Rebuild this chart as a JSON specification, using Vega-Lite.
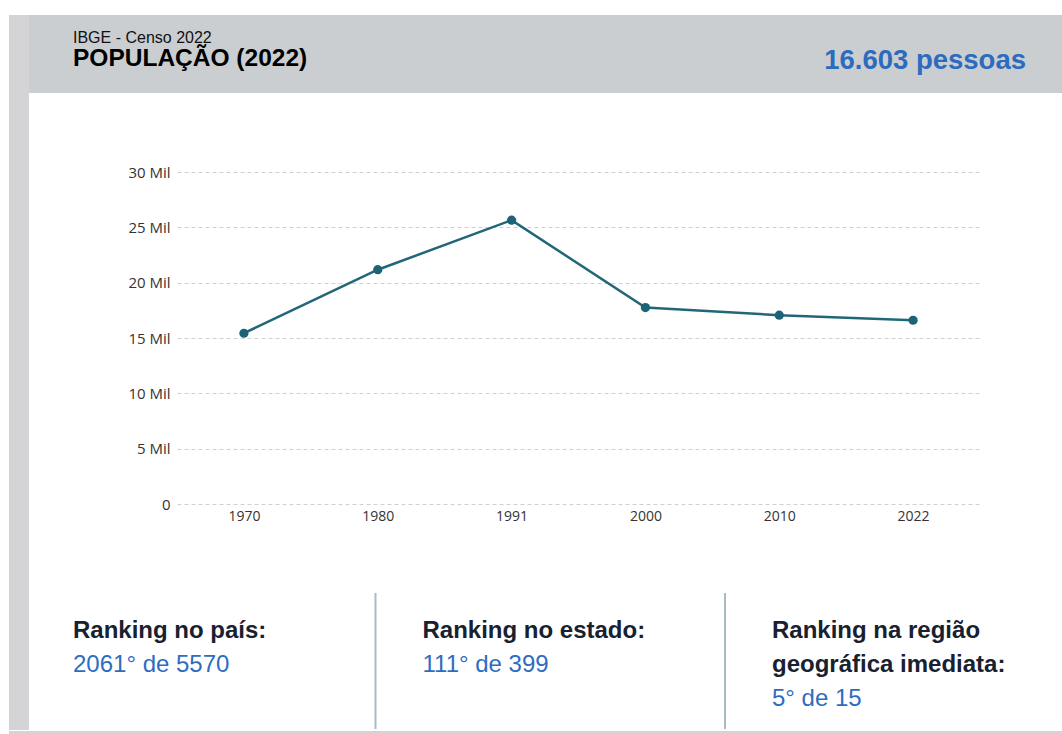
{
  "$schema": "https://vega.github.io/schema/vega-lite/v6.json",
  "background": "white",
  "padding": {"left": 9, "top": 15, "right": 0, "bottom": 0},
  "config": {"view": {"stroke": null}, "concat": {"spacing": 0}},
  "spacing": 0,
  "vconcat": [
    {
      "spacing": 0,
      "hconcat": [
        {
          "width": 20,
          "height": 715,
          "view": {"fill": "#d4d4d6", "stroke": null},
          "data": {"values": [{}]},
          "mark": {"type": "point", "opacity": 0}
        },
        {
          "spacing": 72,
          "vconcat": [
            {
              "width": 1033,
              "height": 78,
              "view": {"fill": "#cbced1", "stroke": null},
              "data": {"values": [
                {"pos": "left", "line": 1, "kind": "source", "text": "IBGE - Censo 2022"},
                {"pos": "left", "line": 2, "kind": "title", "text": "POPULAÇÃO (2022)"},
                {"pos": "right", "line": 2, "kind": "value", "text": "16.603 pessoas"}
              ]},
              "encoding": {
                "x": {"field": "pos", "type": "ordinal", "scale": {"type": "point", "domain": ["left", "right"], "range": [44, 997], "padding": 0}, "axis": null},
                "y": {"field": "line", "type": "ordinal", "scale": {"type": "point", "domain": [1, 2], "range": [28, 51], "padding": 0}, "axis": null},
                "text": {"field": "text"}
              },
              "layer": [
                {"transform": [{"filter": "datum.kind == 'source'"}], "mark": {"type": "text", "align": "left", "baseline": "alphabetic", "font": "Liberation Sans", "fontSize": 16, "color": "#111111"}},
                {"transform": [{"filter": "datum.kind == 'title'"}], "mark": {"type": "text", "align": "left", "baseline": "alphabetic", "font": "Liberation Sans", "fontSize": 24.5, "fontWeight": "bold", "color": "#000000"}},
                {"transform": [{"filter": "datum.kind == 'value'"}], "mark": {"type": "text", "align": "right", "baseline": "alphabetic", "font": "Liberation Sans", "fontSize": 27.5, "fontWeight": "bold", "color": "#2c6bbd", "dy": 3}}
              ]
            },
            {
              "spacing": 58,
              "vconcat": [
                {
                  "spacing": 0,
                  "hconcat": [
                    {
                      "width": 88,
                      "height": 300,
                      "data": {"values": [{}]},
                      "mark": {"type": "point", "opacity": 0}
                    },
                    {
                      "width": 803,
                      "height": 332,
                      "data": {"values": [
                        {"year": "1970", "pop": 15430},
                        {"year": "1980", "pop": 21170},
                        {"year": "1991", "pop": 25650},
                        {"year": "2000", "pop": 17750},
                        {"year": "2010", "pop": 17060},
                        {"year": "2022", "pop": 16603}
                      ]},
                      "encoding": {
                        "x": {"field": "year", "type": "ordinal", "scale": {"type": "point", "padding": 0.5},
                          "axis": {"title": null, "labelAngle": 0, "ticks": false, "domain": false, "grid": false, "labelFont": "Open Sans", "labelFontSize": 14, "labelColor": "#333333", "labelPadding": 5, "minExtent": 30}},
                        "y": {"field": "pop", "type": "quantitative", "scale": {"domain": [0, 30000]},
                          "axis": {"title": null, "values": [0, 5000, 10000, 15000, 20000, 25000, 30000], "labelExpr": "datum.value == 0 ? '0' : (datum.value / 1000) + ' Mil'", "ticks": false, "domain": false, "grid": true, "gridDash": [4, 3], "gridColor": "#d0d0d0", "gridWidth": 1, "labelFont": "Open Sans", "labelFontSize": 15, "labelColor": "#333333", "labelPadding": 7, "minExtent": 60, "maxExtent": 60}}
                      },
                      "layer": [
                        {"mark": {"type": "line", "color": "#216779", "strokeWidth": 2.5}},
                        {"mark": {"type": "point", "filled": true, "opacity": 1, "color": "#1d6378", "size": 85}}
                      ]
                    }
                  ]
                },
                {
                  "width": 1033,
                  "height": 136,
                  "data": {"values": [
                    {"col": "país", "line": 1, "kind": "label", "text": "Ranking no país:"},
                    {"col": "país", "line": 2, "kind": "value", "text": "2061° de 5570"},
                    {"col": "estado", "line": 1, "kind": "label", "text": "Ranking no estado:"},
                    {"col": "estado", "line": 2, "kind": "value", "text": "111° de 399"},
                    {"col": "região", "line": 1, "kind": "label", "text": "Ranking na região"},
                    {"col": "região", "line": 2, "kind": "label", "text": "geográfica imediata:"},
                    {"col": "região", "line": 3, "kind": "value", "text": "5° de 15"}
                  ]},
                  "encoding": {
                    "x": {"field": "col", "type": "ordinal", "scale": {"type": "point", "domain": ["país", "estado", "região"], "range": [-3, 696], "padding": 0}, "axis": null}
                  },
                  "layer": [
                    {"transform": [{"filter": "datum.col != 'país' && datum.line == 1"}], "mark": {"type": "rule", "color": "#a9bac2", "strokeWidth": 2}},
                    {"transform": [{"filter": "datum.kind == 'label'"}], "mark": {"type": "text", "align": "left", "baseline": "alphabetic", "dx": 47, "font": "Liberation Sans", "fontSize": 24, "fontWeight": "bold", "color": "#18212f"},
                      "encoding": {"y": {"field": "line", "type": "ordinal", "scale": {"type": "point", "domain": [1, 2, 3], "range": [45, 113], "padding": 0}, "axis": null}, "text": {"field": "text"}}},
                    {"transform": [{"filter": "datum.kind == 'value'"}], "mark": {"type": "text", "align": "left", "baseline": "alphabetic", "dx": 47, "font": "Liberation Sans", "fontSize": 24, "color": "#2f6cbf"},
                      "encoding": {"y": {"field": "line", "type": "ordinal", "scale": {"type": "point", "domain": [1, 2, 3], "range": [45, 113], "padding": 0}, "axis": null}, "text": {"field": "text"}}}
                  ]
                }
              ]
            }
          ]
        }
      ]
    },
    {
      "width": 1053,
      "height": 4,
      "view": {"fill": "#d4d4d6", "stroke": null},
      "data": {"values": [{}]},
      "mark": {"type": "point", "opacity": 0}
    }
  ]
}
